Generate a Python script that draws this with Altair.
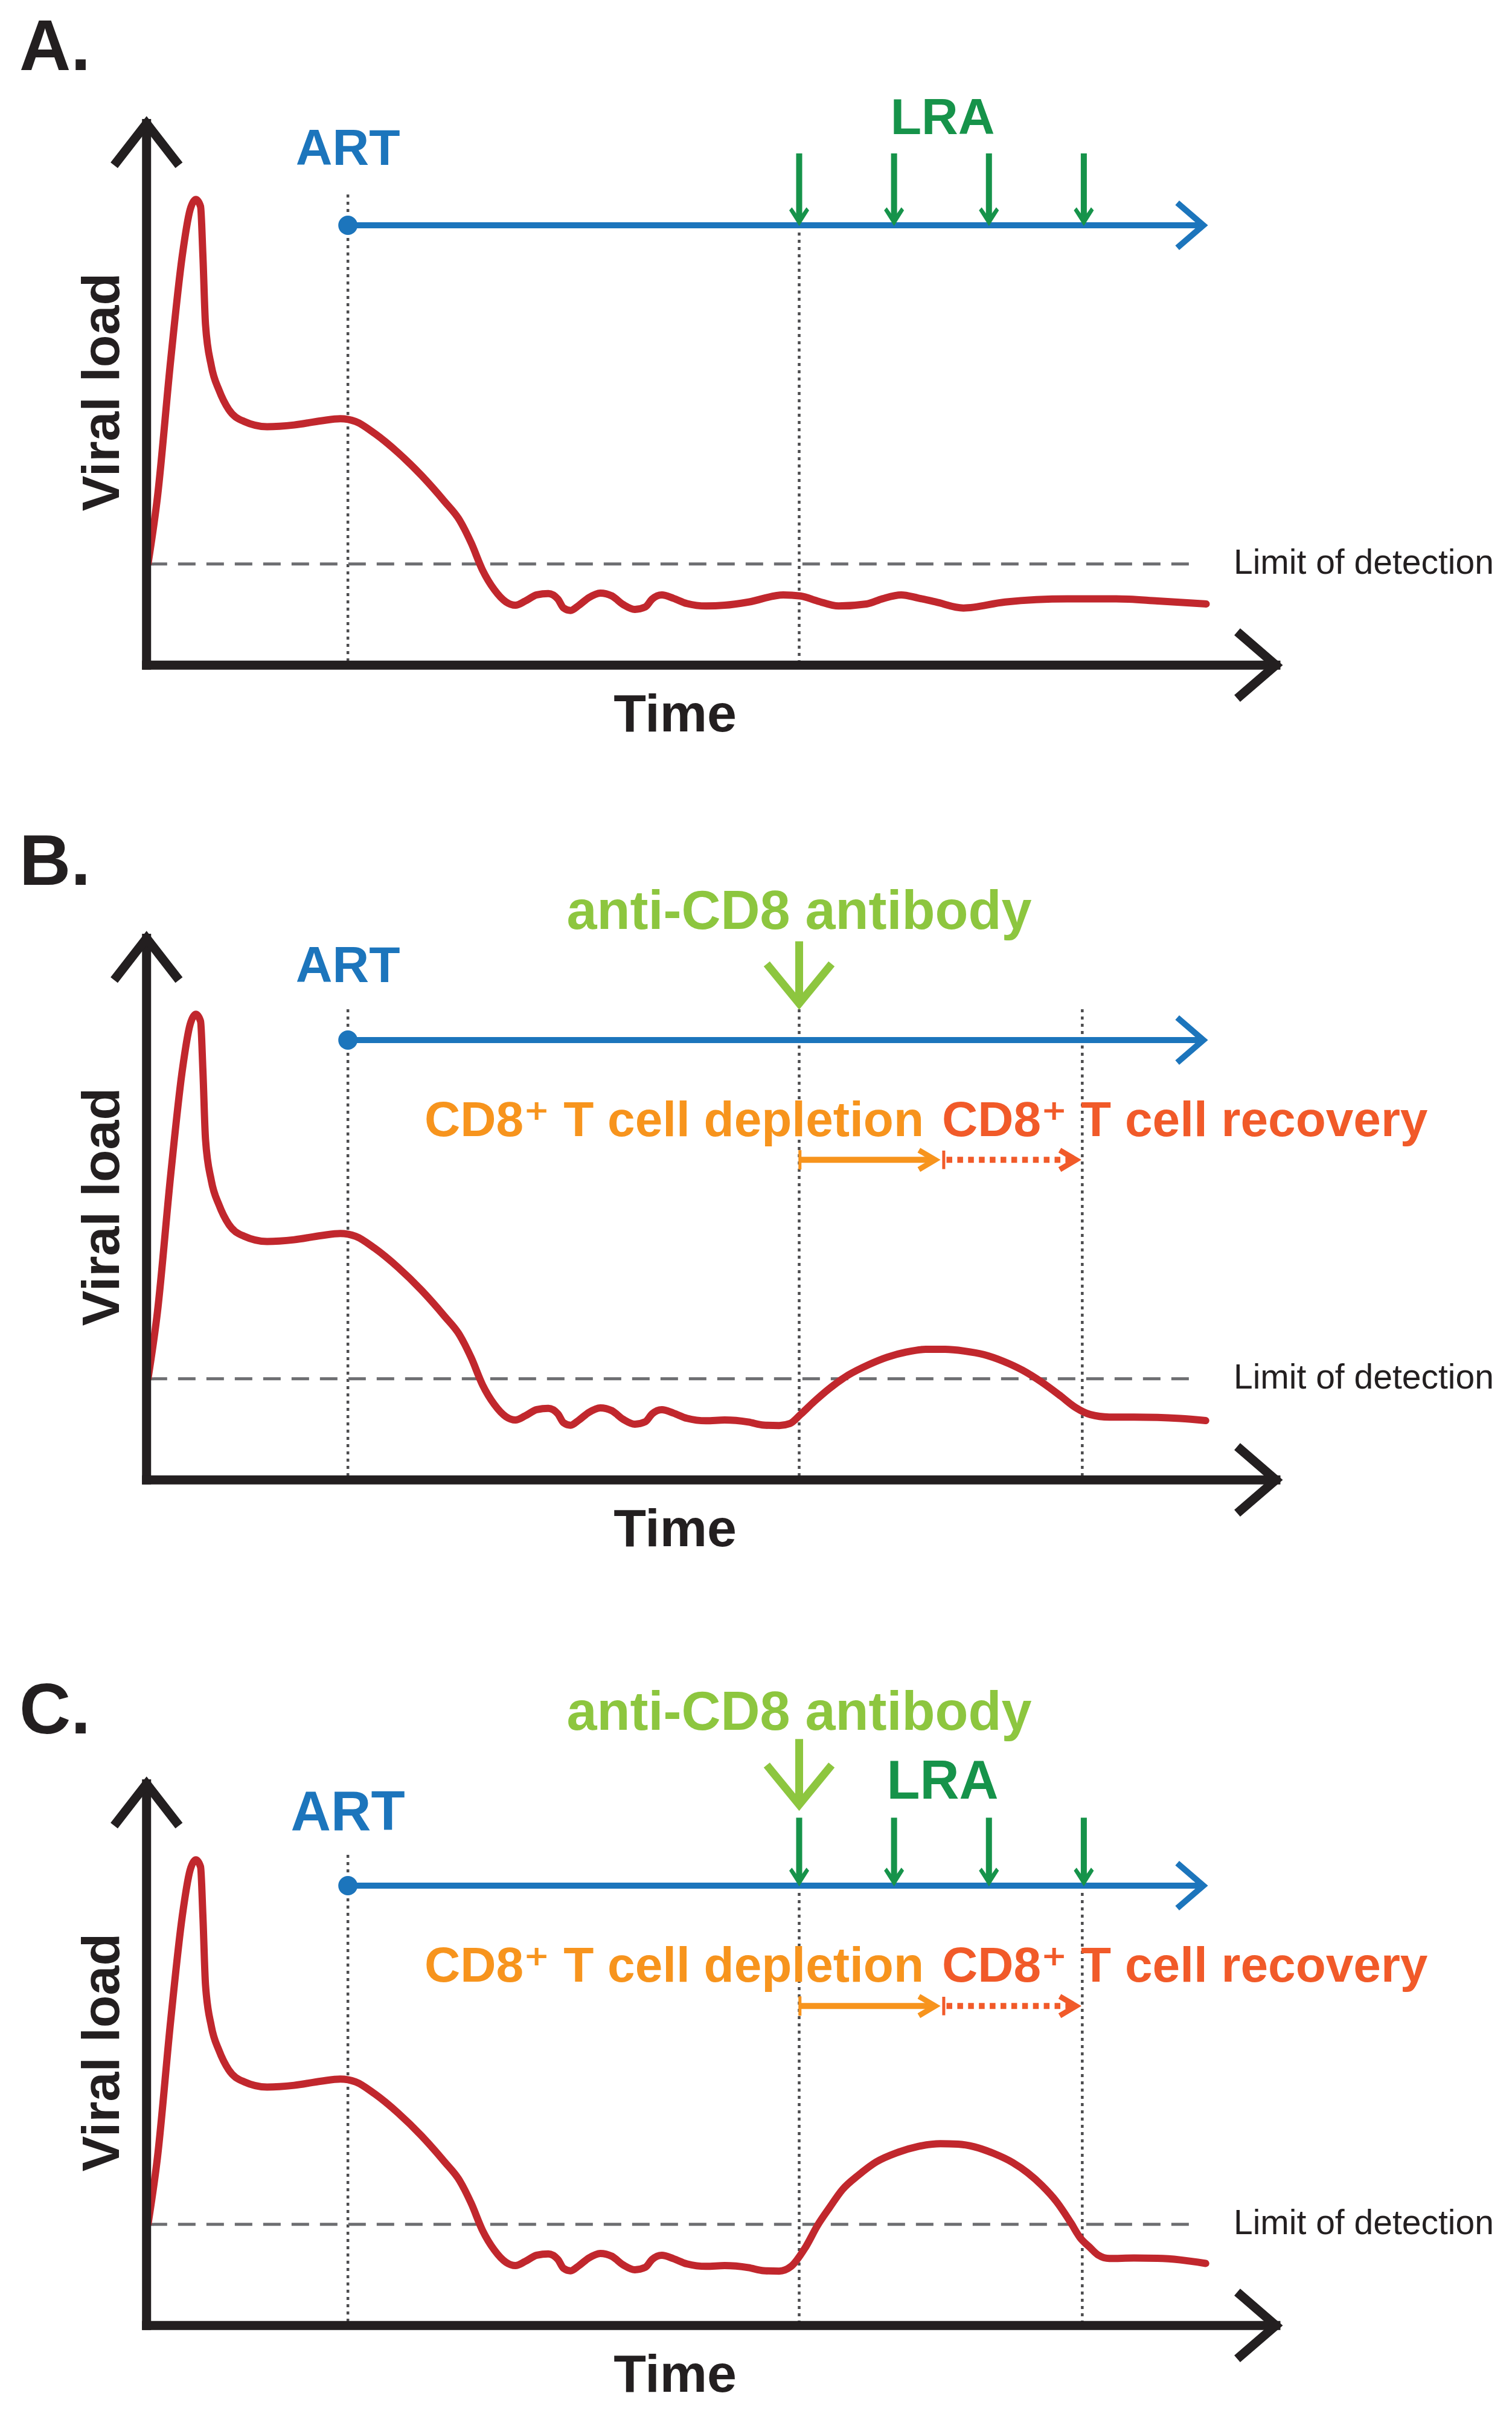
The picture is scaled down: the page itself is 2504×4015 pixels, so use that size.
import altair as alt
import pandas as pd

# ---------------- data ----------------
PANELS = ["A", "B", "C"]
panel_labels = ["A.", "B.", "C."]

# viral-load curve (time across, height measured down from the top of each panel)
early_time = [96.0, 102.0, 110.7, 118.2, 123.2, 127.0, 130.0, 131.5, 133.2, 137.0,
              142.0, 148.2, 158.2, 173.1, 190.6, 208.1, 220.6, 230.5, 243.0, 258.0,
              273.0, 288.0, 297.9, 305.4, 312.9, 320.4, 327.9, 334.1, 340.4, 347.9,
              355.4, 361.6, 365.3, 369.8, 375.3, 381.6, 389.1, 396.5, 404.0, 411.5,
              418.3, 422.7, 429.0, 436.5, 445.2, 457.7, 469.7]
early_load = [365.0, 322.6, 232.7, 165.3, 136.0, 129.3, 133.8, 165.3, 210.2, 237.2,
              252.9, 265.3, 273.1, 276.5, 275.4, 272.7, 271.3, 273.1, 281.0, 293.3,
              307.9, 324.8, 337.1, 351.8, 369.7, 382.1, 390.0, 392.2, 389.5, 385.5,
              384.6, 388.2, 394.0, 395.6, 392.2, 387.3, 384.3, 386.1, 391.8, 394.9,
              393.3, 388.2, 385.5, 387.7, 391.1, 392.7, 392.2]

tail_time_A = [485.2, 507.7, 518.9, 530.0, 543.6, 561.6, 572.0, 584.1, 595.0, 606.6,
               624.5, 651.5, 691.9, 723.4, 750.4, 781.8]
tail_load_A = [390.1, 385.5, 386.2, 389.5, 392.7, 391.4, 388.0, 385.5, 387.5, 390.1,
               394.0, 390.1, 388.1, 388.1, 389.4, 391.4]

tail_time_B = [485.0, 495.0, 505.0, 512.0, 518.9, 528.0, 537.7, 550.0, 562.7, 575.0,
               587.7, 600.0, 612.7, 625.0, 637.7, 650.0, 662.7, 675.0, 687.7, 697.0,
               706.5, 719.0, 735.0, 750.2, 765.0, 781.5]
tail_load_B = [393.5, 395.5, 395.8, 394.5, 388.6, 380.0, 371.7, 363.0, 356.5, 351.5,
               348.1, 346.4, 346.4, 347.5, 349.8, 354.0, 359.9, 367.5, 376.8, 384.0,
               388.6, 390.3, 390.3, 390.5, 391.2, 392.6]

tail_time_C = [485.0, 495.0, 505.0, 512.7, 522.0, 530.0, 537.7, 546.0, 556.4, 568.0,
               581.4, 595.0, 609.6, 621.0, 631.5, 644.0, 656.5, 666.0, 675.2, 685.0,
               694.0, 700.0, 706.5, 712.0, 719.0, 735.0, 750.2, 765.0, 781.5]
tail_load_C = [393.5, 395.5, 395.8, 392.8, 380.5, 366.0, 354.6, 343.0, 333.6, 325.0,
               319.0, 315.0, 313.2, 313.5, 315.2, 319.5, 325.5, 332.0, 340.1, 351.0,
               364.3, 374.0, 380.5, 385.5, 387.6, 387.3, 387.5, 388.5, 390.8]

# event times
art_start = 225.5
art_stop = 779.0
lra_times = [518.0, 579.5, 641.0, 702.5]
cd8_time = 518.0
depletion_stop = 610.5
recovery_stop = 701.5
lod_level = 365.5

# texts
txt_art = "ART"
txt_lra = "LRA"
txt_cd8 = "anti-CD8 antibody"
txt_dep = "CD8\u207a T cell depletion"
txt_rec = "CD8\u207a T cell recovery"
txt_lod = "Limit of detection"
txt_y = "Viral load"
txt_x = "Time"

# ---------------- geometry ----------------
SCALE = 2.555
W = 2488
HEIGHTS = {"A": 1349, "B": 1400, "C": 1250}
TOP = 8 / SCALE
X_DOMAIN = [TOP, TOP + W / SCALE]
T0, V0 = 95.0, 431.0          # axis origin
Y_TIP, X_TIP = 80.0, 827.0     # axis ends

FONT = "'Liberation Sans', Arial, 'DejaVu Sans', sans-serif"

BLACK = "#231F20"
RED = "#C1272D"
BLUE = "#1C75BC"
DKGREEN = "#16934A"
LTGREEN = "#8DC63F"
ORANGE = "#F7941D"
REDORANGE = "#F15A29"

# ---------------- records ----------------
curve_rows = []
tails = {"A": (tail_time_A, tail_load_A), "B": (tail_time_B, tail_load_B),
         "C": (tail_time_C, tail_load_C)}
for p in PANELS:
    tt, ll = tails[p]
    for t, v in zip(early_time + tt, early_load + ll):
        curve_rows.append({"panel": p, "t": t, "v": v})
curve = pd.DataFrame(curve_rows)

seg_rows = []


def seg(p, kind, t, v, t2, v2):
    seg_rows.append({"panel": p, "kind": kind, "t": t, "v": v, "t2": t2, "v2": v2})


pt_rows = []


def pt(p, kind, t, v):
    pt_rows.append({"panel": p, "kind": kind, "t": t, "v": v})


txt_rows = []


def tx(p, kind, t, v, label):
    txt_rows.append({"panel": p, "kind": kind, "t": t, "v": v, "label": label})


for i, p in enumerate(PANELS):
    seg(p, "axis", T0, V0, T0, Y_TIP)
    seg(p, "axis", T0, V0, X_TIP, V0)
    pt(p, "chev_up", T0, Y_TIP)
    pt(p, "chev_right", X_TIP, V0)
    seg(p, "lod", 97.0, lod_level, 777.0, lod_level)
    seg(p, "guide", art_start, 126.0, art_start, V0)
    seg(p, "art", art_start, 146.0, art_stop, 146.0)
    pt(p, "chev_art", art_stop + 1, 146.0)
    pt(p, "dot", art_start, 146.0)
    tx(p, "panel", 12.5, 45.5 if p != "C" else 47.5, panel_labels[i])
    tx(p, "ylab", 77.0, 254.0, txt_y)
    tx(p, "xlab", 437.6, 474.0, txt_x)
    tx(p, "lod", 799.6, 372.0, txt_lod)
    tx(p, "art" if p != "C" else "art_c", art_start, {"A": 107.0, "B": 108.6, "C": 110.1}[p], txt_art)

# panel A: LRA doses
for t in lra_times:
    seg("A", "lra", t, 99.4, t, 141.0)
    pt("A", "lra_head", t, 146.5)
seg("A", "guide", cd8_time, 146.0, cd8_time, V0)
tx("A", "lra", 611.0, 86.8, txt_lra)

# panels B and C: CD8 depletion
cd8_top = {"B": 82.0, "C": 51.0}
cd8_tip = {"B": 122.3, "C": 93.5}
cd8_txt = {"B": 73.8, "C": 44.9}
guide_top = {"B": 126.0, "C": 146.0}
span_v = {"B": 223.6, "C": 224.0}
for p in ["B", "C"]:
    seg(p, "cd8", cd8_time, cd8_top[p], cd8_time, cd8_tip[p])
    pt(p, "chev_down", cd8_time, cd8_tip[p])
    seg(p, "guide", cd8_time, guide_top[p], cd8_time, V0)
    seg(p, "guide", recovery_stop, guide_top[p], recovery_stop, V0)
    v = span_v[p]
    seg(p, "dep", cd8_time, v, depletion_stop - 4.5, v)
    seg(p, "deptick", cd8_time + 0.5, v - 6.3, cd8_time + 0.5, v + 6.3)
    pt(p, "chev_dep", depletion_stop - 4.3, v)
    seg(p, "rectick", depletion_stop + 1.2, v - 6.0, depletion_stop + 1.2, v + 6.0)
    seg(p, "rec", depletion_stop + 3.0, v, recovery_stop - 5.0, v)
    pt(p, "chev_rec", recovery_stop - 4.0, v)
    tx(p, "cd8", cd8_time, cd8_txt[p], txt_cd8)
    tx(p, "dep", 437.0, 208.3, txt_dep)
    tx(p, "rec", 768.0, 208.3, txt_rec)

for t in lra_times:
    seg("C", "lra", t, 102.0, t, 141.0)
    pt("C", "lra_head", t, 146.5)
tx("C", "lra_c", 611.0, 89.6, txt_lra)

segs = pd.DataFrame(seg_rows)
pts = pd.DataFrame(pt_rows)
txts = pd.DataFrame(txt_rows)

# ---------------- styles ----------------
SEG_STYLES = {
    "guide": dict(color="#4D4D4F", strokeWidth=4.5, strokeDash=[5, 7]),
    "lod": dict(color="#6D6E71", strokeWidth=5, strokeDash=[29, 18]),
    "art": dict(color=BLUE, strokeWidth=10),
}
SEG_STYLES_TOP = {
    "axis": dict(color=BLACK, strokeWidth=15, strokeCap="square"),
    "lra": dict(color=DKGREEN, strokeWidth=10),
    "cd8": dict(color=LTGREEN, strokeWidth=13),
    "dep": dict(color=ORANGE, strokeWidth=10),
    "deptick": dict(color=ORANGE, strokeWidth=5),
    "rectick": dict(color=REDORANGE, strokeWidth=5),
    "rec": dict(color=REDORANGE, strokeWidth=10, strokeDash=[9.5, 8.4]),
}


def chev(a):
    return f"M{-a},-1L0,0L{-a},1"


LRA_HEAD = "M0,0L-1,-1.58L-0.73,-1.88L0,-0.85L0.73,-1.88L1,-1.58Z"

PT_STYLES = {
    "chev_up": dict(shape=chev(1.29), size=11534, filled=False, color=BLACK, strokeWidth=15, angle=270),
    "chev_right": dict(shape=chev(1.16), size=12188, filled=False, color=BLACK, strokeWidth=15, angle=0),
    "chev_art": dict(shape=chev(1.16), size=5565, filled=False, color=BLUE, strokeWidth=10, angle=0),
    "chev_down": dict(shape=chev(1.22), size=11534, filled=False, color=LTGREEN, strokeWidth=13, angle=90),
    "chev_dep": dict(shape=chev(1.69), size=1024, filled=False, color=ORANGE, strokeWidth=9, angle=0),
    "chev_rec": dict(shape=chev(1.69), size=1024, filled=False, color=REDORANGE, strokeWidth=9, angle=0),
    "lra_head": dict(shape=LRA_HEAD, size=1089, filled=True, color=DKGREEN, strokeWidth=0),
    "dot": dict(shape="circle", size=1018, filled=True, color=BLUE, strokeWidth=0),
}

B = dict(font=FONT, fontWeight="bold")
TXT_STYLES = {
    "panel": dict(**B, fontSize=118, color=BLACK, align="left"),
    "ylab": dict(**B, fontSize=88, color=BLACK, align="center", angle=270),
    "xlab": dict(**B, fontSize=88, color=BLACK, align="center"),
    "lod": dict(font=FONT, fontSize=57, color=BLACK, align="left"),
    "art": dict(**B, fontSize=84, color=BLUE, align="center"),
    "art_c": dict(**B, fontSize=92, color=BLUE, align="center"),
    "lra": dict(**B, fontSize=84, color=DKGREEN, align="center"),
    "lra_c": dict(**B, fontSize=90, color=DKGREEN, align="center"),
    "cd8": dict(**B, fontSize=90, color=LTGREEN, align="center"),
    "dep": dict(**B, fontSize=82, color=ORANGE, align="center"),
    "rec": dict(**B, fontSize=82, color=REDORANGE, align="center"),
}


def panel_chart(p):
    h = HEIGHTS[p]
    xsc = alt.Scale(domain=X_DOMAIN, nice=False, zero=False)
    ysc = alt.Scale(domain=[TOP, TOP + h / SCALE], nice=False, zero=False, reverse=True)
    X = alt.X("t:Q", scale=xsc, axis=None)
    Y = alt.Y("v:Q", scale=ysc, axis=None)
    layers = []
    sp = segs[segs.panel == p]
    pp = pts[pts.panel == p]
    tp = txts[txts.panel == p]

    def add_segs(styles):
        for kind, style in styles.items():
            d = sp[sp.kind == kind]
            if len(d):
                layers.append(alt.Chart(d).mark_rule(**style).encode(
                    x=X, y=Y, x2=alt.X2("t2"), y2=alt.Y2("v2")))

    add_segs(SEG_STYLES)
    layers.append(alt.Chart(curve[curve.panel == p]).mark_line(
        color=RED, strokeWidth=12, interpolate="monotone", strokeCap="round",
        strokeJoin="round").encode(x=X, y=Y, order="t:Q"))
    add_segs(SEG_STYLES_TOP)
    for kind, style in PT_STYLES.items():
        d = pp[pp.kind == kind]
        if len(d):
            layers.append(alt.Chart(d).mark_point(opacity=1, strokeJoin="miter",
                                                  strokeMiterLimit=10, **style).encode(x=X, y=Y))
    for kind, style in TXT_STYLES.items():
        d = tp[tp.kind == kind]
        if len(d):
            layers.append(alt.Chart(d).mark_text(baseline="alphabetic", **style).encode(
                x=X, y=Y, text="label:N"))
    return alt.layer(*layers).properties(width=W, height=h)


chart = alt.vconcat(*[panel_chart(p) for p in PANELS], spacing=0, bounds="flush").properties(
    padding=0, background="white"
).configure_view(stroke=None)

chart.save("out.html", embed_options={"renderer": "svg", "actions": False})
